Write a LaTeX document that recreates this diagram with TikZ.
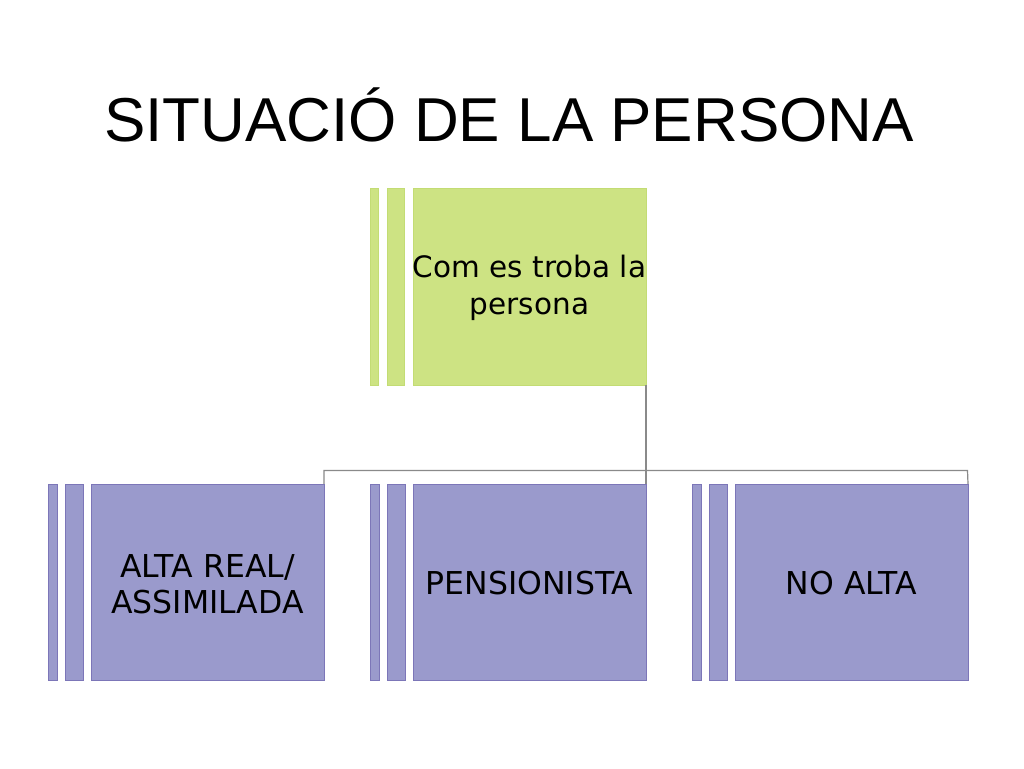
\documentclass[tikz,border=0pt]{standalone}
\usepackage{fontspec}
\setmainfont{DejaVu Sans}
\newfontfamily\titlefont{Liberation Sans}
\definecolor{gfill}{HTML}{CDE383}
\definecolor{gline}{HTML}{C3DC74}
\definecolor{pfill}{HTML}{9A9ACC}
\definecolor{pline}{HTML}{7C76B8}
\definecolor{conn}{HTML}{8A8A8A}
\tikzset{
  gbar/.style={fill=gfill, draw=gline, line width=0.6pt},
  pbar/.style={fill=pfill, draw=pline, line width=0.8pt},
  boxtext/.style={align=center, font=\fontsize{31.5}{36.5}\selectfont, inner sep=0pt},
  topboxtext/.style={boxtext, font=\fontsize{29.5}{36.5}\selectfont},
  connector/.style={draw=conn, line width=1.2pt}
}
\begin{document}
\begin{tikzpicture}[x=1pt,y=-1pt]
\useasboundingbox (0,0) rectangle (1024,768);
\fill[white] (0,0) rectangle (1024,768);
% title
\node[anchor=base, inner sep=0pt, font=\titlefont\fontsize{62}{70}\selectfont] (title) at (509,141) {SITUACIÓ DE LA PERSONA};
% top box
\draw[gbar] (370,188) rectangle (378.5,385);
\draw[gbar] (387,188) rectangle (404,385);
\draw[gbar] (413,188) rectangle (646,385);
\coordinate (topR) at (646,385);
\node[topboxtext] (top) at (529.5,288) {Com es troba la\\persona};
% bottom boxes
\foreach \dx/\nm in {0/a, 322/b, 644/c}{
  \draw[pbar] (48+\dx,484) rectangle (57+\dx,680);
  \draw[pbar] (65+\dx,484) rectangle (83+\dx,680);
  \draw[pbar] (91+\dx,484) rectangle (324+\dx,680);
  \coordinate (\nm top) at (324+\dx,484);
}
\node[boxtext] (alta) at (207.5,584) {ALTA REAL/\\ASSIMILADA};
\node[boxtext] (pens) at (529.5,583) {PENSIONISTA};
\node[boxtext] (noalta) at (851.5,583) {NO ALTA};
% connectors
\coordinate (hubL) at (324,470.5);
\coordinate (hubR) at (967.5,470.5);
\draw[connector] (topR) -- (btop);
\draw[connector] (atop) -- (hubL) -- (hubR) -- (ctop);
\end{tikzpicture}
\end{document}
